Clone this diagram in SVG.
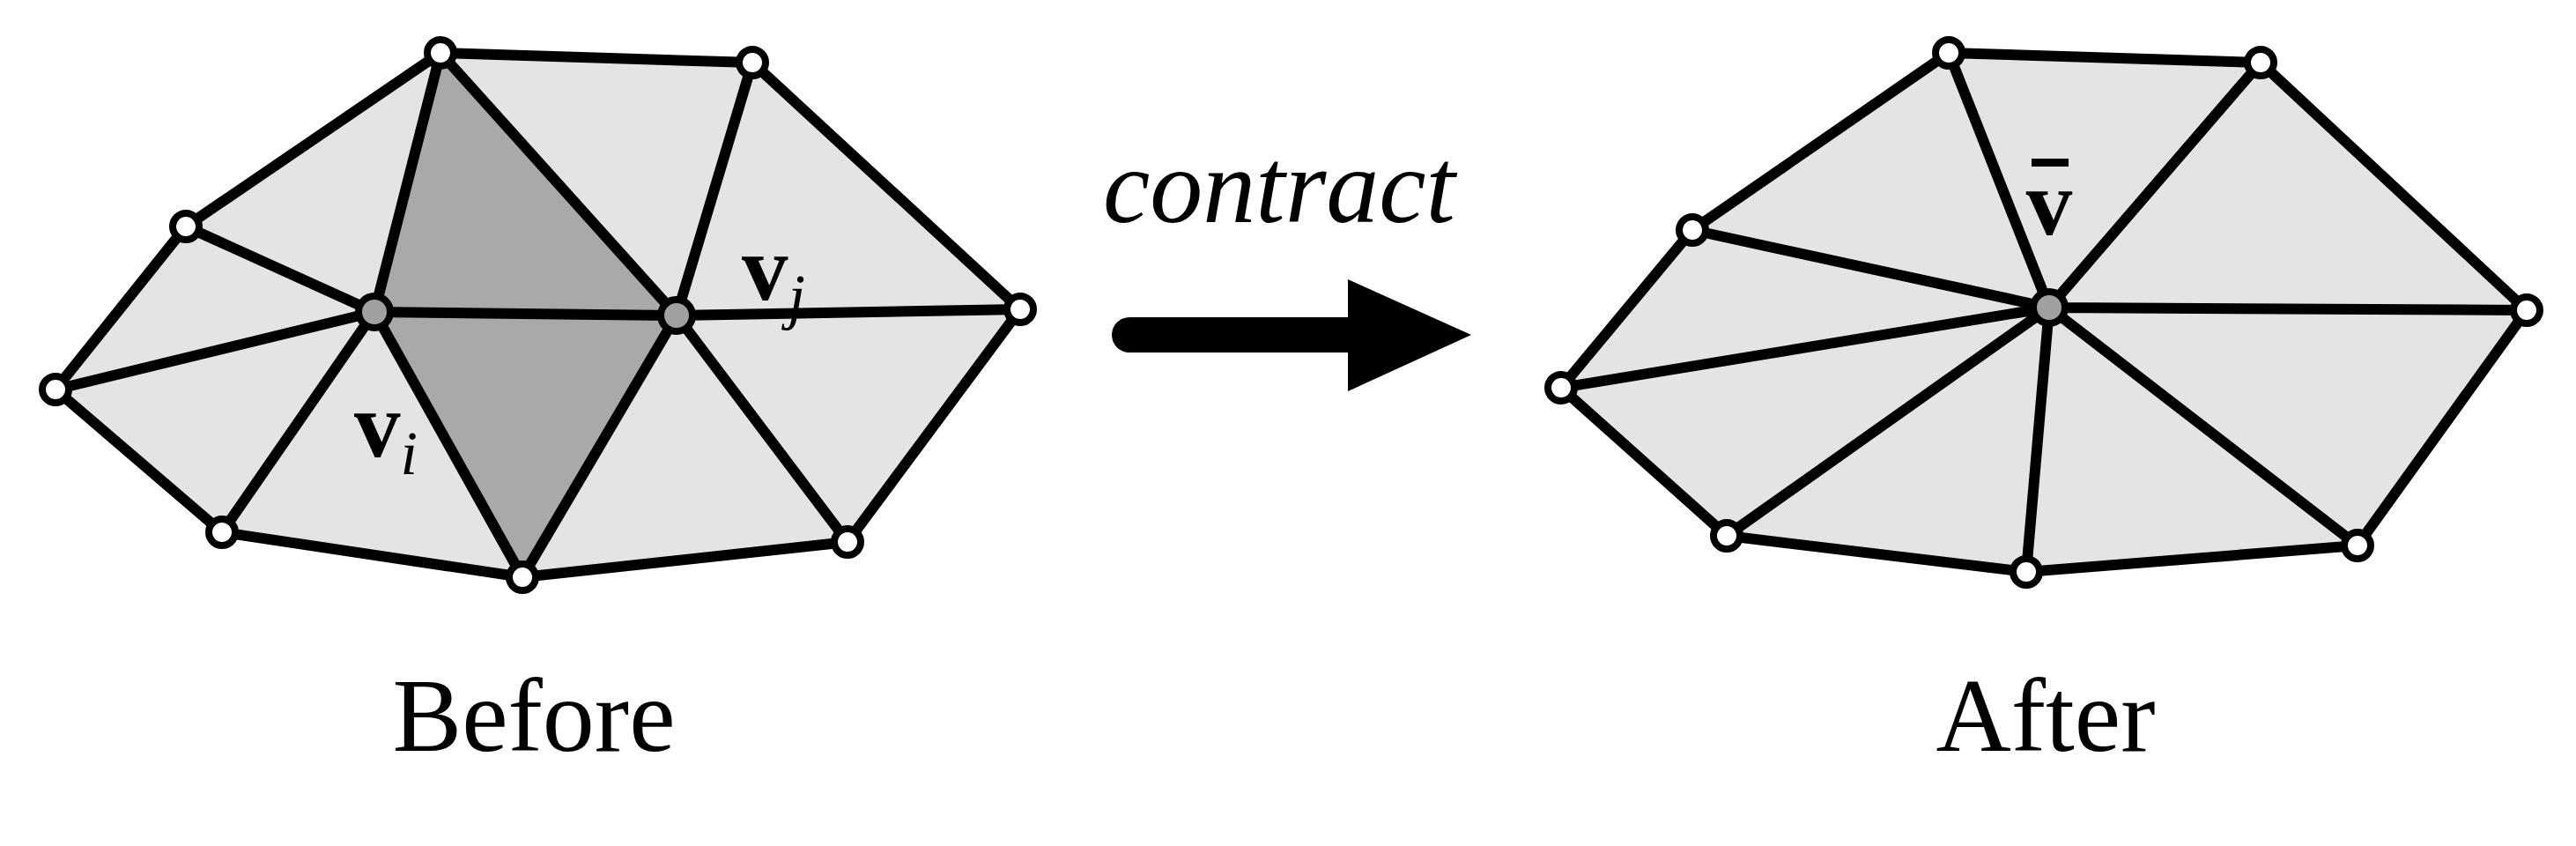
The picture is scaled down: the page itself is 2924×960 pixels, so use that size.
<svg xmlns="http://www.w3.org/2000/svg" width="2924" height="960" viewBox="0 0 2924 960">
<style>
.light{fill:#e4e4e4;stroke:none}
.dark{fill:#a9a9a9;stroke:none}
.e{stroke:#000;stroke-width:12;stroke-linecap:round;fill:none}
.vo{fill:#fff;stroke:#000;stroke-width:8}
.vc{fill:#a0a0a0;stroke:#000;stroke-width:8}
.t{font-family:"Liberation Serif",serif;fill:#000}
</style>
<rect width="2924" height="960" fill="#fff"/>
<g id="before">
<polygon class="light" points="500,60 854,71 1158,351 962,615 593,655 252,604 63,442 211,257"/>
<polygon class="dark" points="500,60 425,354 768,358"/>
<polygon class="dark" points="425,354 768,358 593,655"/>
<g class="e">
<polyline points="500,60 854,71 1158,351 962,615 593,655 252,604 63,442 211,257 500,60"/>
<path d="M425,354L500,60M425,354L211,257M425,354L63,442M425,354L252,604M425,354L593,655M425,354L768,358M768,358L500,60M768,358L854,71M768,358L1158,351M768,358L962,615M768,358L593,655"/>
</g>
<g>
<circle class="vo" cx="500" cy="60" r="15"/><circle class="vo" cx="854" cy="71" r="15"/><circle class="vo" cx="1158" cy="351" r="15"/><circle class="vo" cx="962" cy="615" r="15"/><circle class="vo" cx="593" cy="655" r="15"/><circle class="vo" cx="252" cy="604" r="15"/><circle class="vo" cx="63" cy="442" r="15"/><circle class="vo" cx="211" cy="257" r="15"/>
<circle class="vc" cx="425" cy="354" r="18"/><circle class="vc" cx="768" cy="358" r="18"/>
</g>
<text class="t" x="402" y="518" font-size="105" font-weight="bold">v<tspan font-weight="normal" font-style="italic" font-size="70" dy="20">i</tspan></text>
<text class="t" x="842" y="340" font-size="105" font-weight="bold">v<tspan font-weight="normal" font-style="italic" font-size="70" dy="20">j</tspan></text>
</g>
<g id="after">
<polygon class="light" points="2212,60 2566,71 2868,352 2676,619 2300,649 1960,608 1772,440 1921,261"/>
<g class="e">
<polyline points="2212,60 2566,71 2868,352 2676,619 2300,649 1960,608 1772,440 1921,261 2212,60"/>
<path d="M2326,349L2212,60M2326,349L2566,71M2326,349L2868,352M2326,349L2676,619M2326,349L2300,649M2326,349L1960,608M2326,349L1772,440M2326,349L1921,261"/>
</g>
<circle class="vo" cx="2212" cy="60" r="15"/><circle class="vo" cx="2566" cy="71" r="15"/><circle class="vo" cx="2868" cy="352" r="15"/><circle class="vo" cx="2676" cy="619" r="15"/><circle class="vo" cx="2300" cy="649" r="15"/><circle class="vo" cx="1960" cy="608" r="15"/><circle class="vo" cx="1772" cy="440" r="15"/><circle class="vo" cx="1921" cy="261" r="15"/>
<circle class="vc" cx="2326" cy="349" r="18"/>
<text class="t" x="2326" y="266" font-size="105" font-weight="bold" text-anchor="middle">v</text>
<rect x="2306" y="180" width="42" height="9" fill="#000"/>
</g>
<g id="connectors">
<path d="M1282,360H1530V317L1670,380L1530,444V400H1282A20,20 0 0 1 1282,360Z" fill="#000"/>
</g>
<text class="t" x="1452" y="252" font-size="120" font-style="italic" text-anchor="middle">contract</text>
<text class="t" x="606" y="852" font-size="118" text-anchor="middle">Before</text>
<text class="t" x="2322" y="852" font-size="118" text-anchor="middle">After</text>
</svg>
